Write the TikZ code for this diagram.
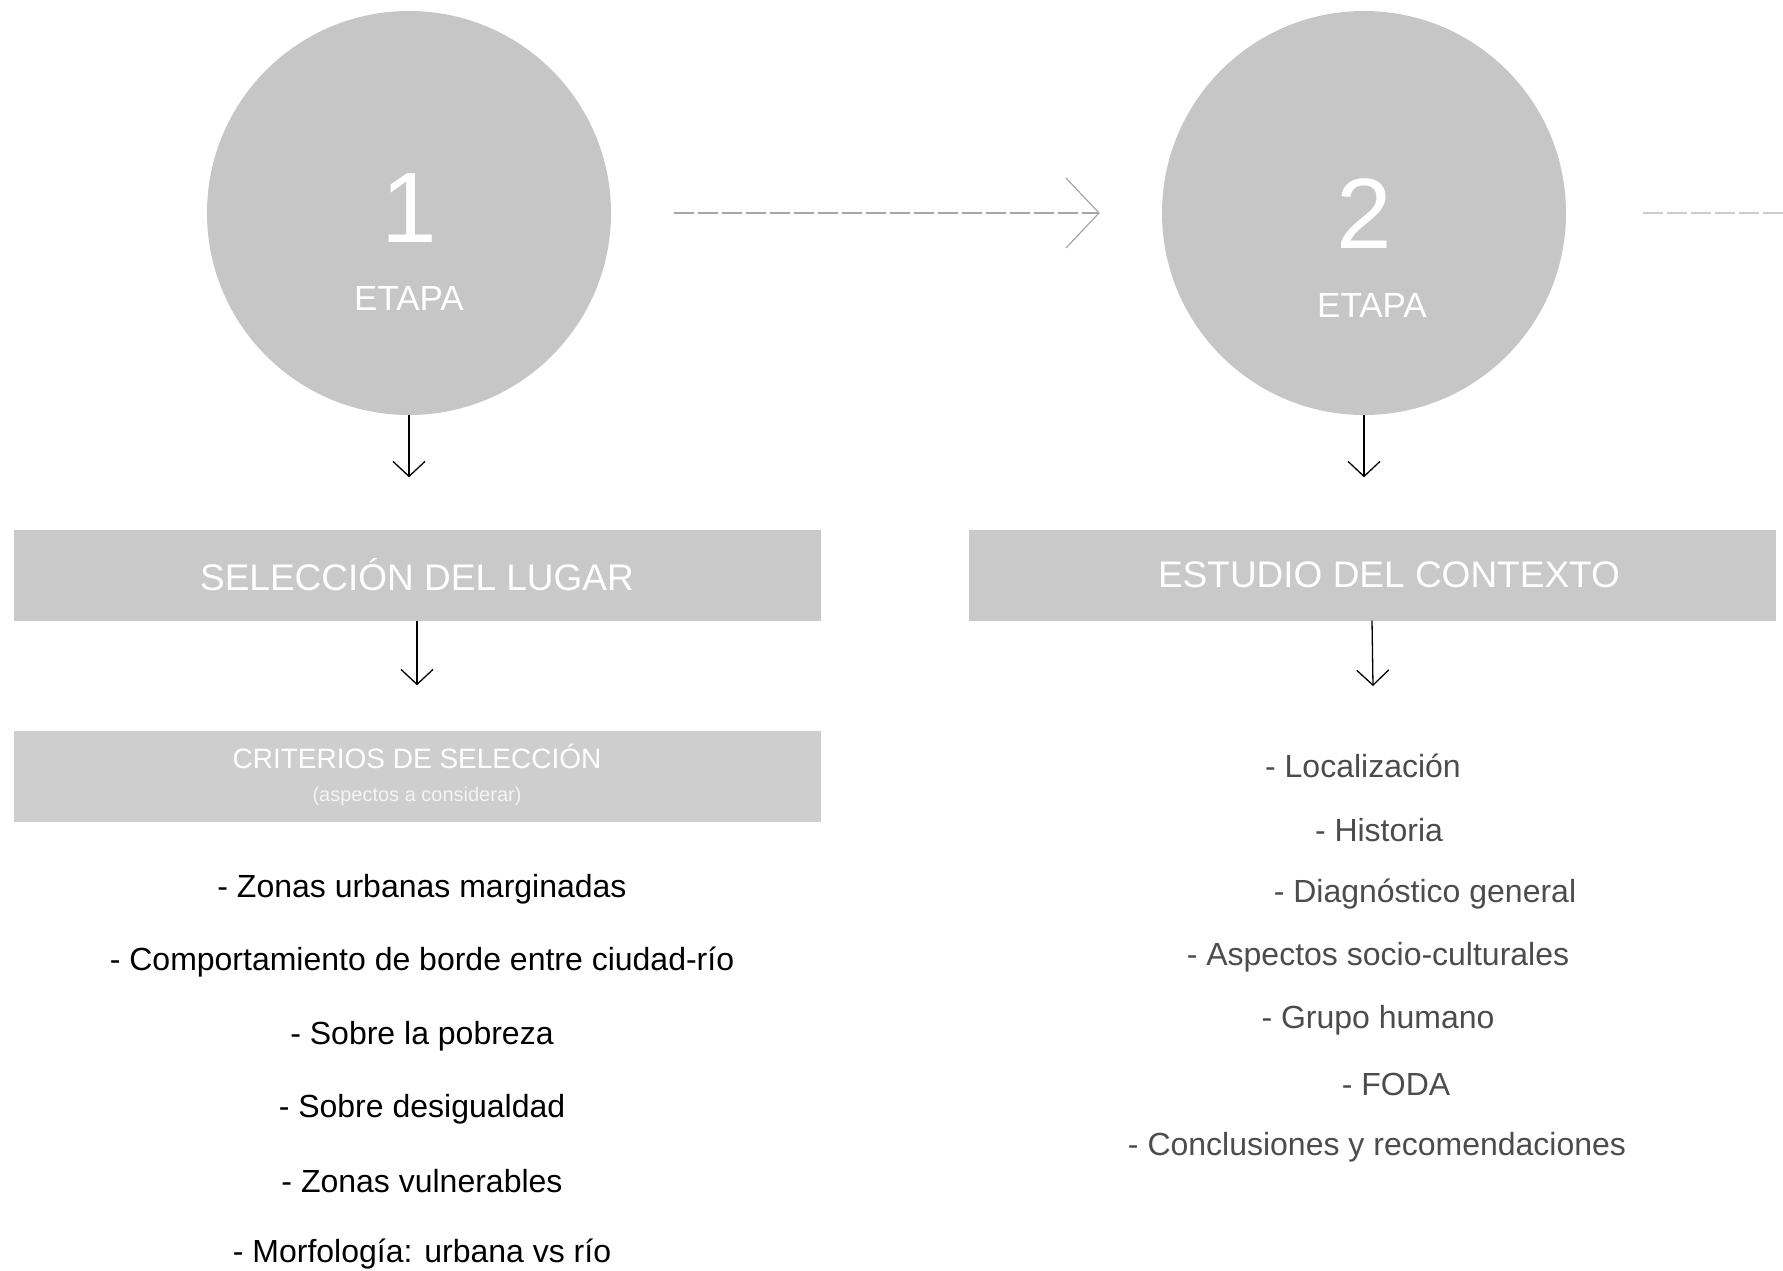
\documentclass[tikz,border=0pt]{standalone}
\usepackage{fontspec}
\setmainfont{Liberation Sans}
\usepackage{xcolor}
\usetikzlibrary{arrows.meta}
\definecolor{circgray}{HTML}{C6C6C6}
\definecolor{bargray}{HTML}{C9C9C9}
\definecolor{listgray}{HTML}{4C4C4C}

\begin{document}
\begin{tikzpicture}[x=1pt,y=-1pt,
  etapa/.style={circle,fill=circgray,minimum size=404pt,inner sep=0pt},
  barra/.style={fill=bargray,minimum width=807pt,minimum height=91pt,inner sep=0pt,text=white,font=\fontsize{37}{40}\selectfont},
  bajar/.style={line width=1.3pt,-{Straight Barb[length=15pt,width=32pt,line width=1.3pt]}},
  punto/.style={font=\fontsize{32}{36}\selectfont}]
\useasboundingbox (0,0) rectangle (1783,1271);
% etapas
\node[etapa] (c1) at (409,213) {};
\node[etapa] (c2) at (1364,213) {};
\node[text=white,font=\fontsize{100}{100}\selectfont] (n1) at (409,208) {1};
\node[text=white,font=\fontsize{35}{40}\selectfont] (e1) at (409,298) {ETAPA};
\node[text=white,font=\fontsize{100}{100}\selectfont] (n2) at (1364,214) {2};
\node[text=white,font=\fontsize{35}{40}\selectfont] (e2) at (1372,305) {ETAPA};
\coordinate (fuera) at (1783,213);
\draw[gray!70,line width=1.2pt,dash pattern=on 20pt off 4pt,shorten <=63pt,shorten >=62pt,-{Straight Barb[length=33pt,width=70pt,line width=1.2pt]}] (c1.east)--(c2.west);
\draw[gray!40,line width=1.5pt,dash pattern=on 20pt off 4pt,shorten <=77pt] (c2.east)--(fuera);
% barras
\node[barra] (lugar) at (417,575) {SELECCIÓN DEL LUGAR};
\node[barra] (contexto) at (1372,575) {\hspace{34pt}ESTUDIO DEL CONTEXTO};
\node[barra,fill=bargray!90] (criterios) at (417,776) {};
\node[text=white,font=\fontsize{28}{32}\selectfont] (crit1) at (417,756) {CRITERIOS DE SELECCIÓN};
\node[text=white!80!bargray,font=\fontsize{20}{24}\selectfont] (crit2) at (417,796) {(aspectos a considerar)};
\draw[bajar,shorten >=52pt] (c1.south)--(c1.south |- lugar.north);
\draw[bajar,shorten >=52pt] (c2.south)--(c2.south |- contexto.north);
\draw[bajar,shorten >=45pt] (lugar.south)--(criterios.north);
\coordinate (finctx) at (1373,686);
\draw[bajar] (contexto.south)--(finctx);
% criterios de seleccion
\node[punto] (z1) at (422,889) {- Zonas urbanas marginadas};
\node[punto] (z2) at (422,962) {- Comportamiento de borde entre ciudad-río};
\node[punto] (z3) at (422,1036) {- Sobre la pobreza};
\node[punto] (z4) at (422,1109) {- Sobre desigualdad};
\node[punto] (z5) at (422,1181) {- Zonas vulnerables};
\node[punto] (z6) at (422,1254) {- Morfología: urbana vs río};
% estudio del contexto
\node[punto,text=listgray] (k1) at (1363,766) {- Localización};
\node[punto,text=listgray] (k2) at (1379,830) {- Historia};
\node[punto,text=listgray] (k3) at (1425,894) {- Diagnóstico general};
\node[punto,text=listgray] (k4) at (1378,957) {- Aspectos socio-culturales};
\node[punto,text=listgray] (k5) at (1378,1020) {- Grupo humano};
\node[punto,text=listgray] (k6) at (1396,1084) {- FODA};
\node[punto,text=listgray] (k7) at (1377,1147) {- Conclusiones y recomendaciones};
\end{tikzpicture}
\end{document}
